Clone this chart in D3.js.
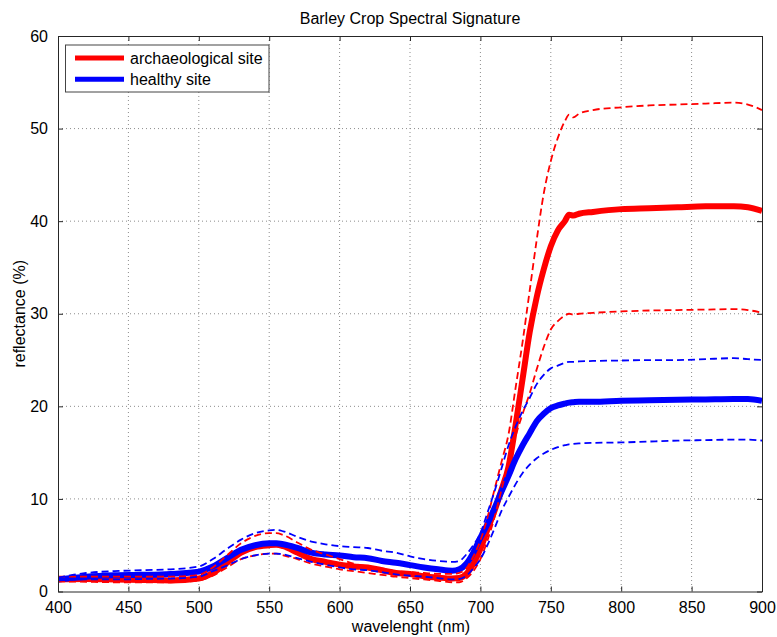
<!DOCTYPE html>
<html><head><meta charset="utf-8">
<script src="https://cdn.jsdelivr.net/npm/d3@7"></script>
<style>body{margin:0;background:#fff;} svg{display:block;font-family:"Liberation Sans",Arial,Helvetica,sans-serif;}</style>
</head><body>
<script>
const wavelength = [400,420,440,460,480,500,510,520,530,540,550,555,560,570,580,590,600,610,620,630,640,650,660,670,680,685,690,695,700,705,710,715,720,725,730,735,740,745,750,755,760,763,766,770,780,800,820,840,860,880,890,900];
const archMean = [1.3,1.35,1.3,1.25,1.2,1.4,2.0,3.1,4.2,4.8,5.0,5.05,4.9,4.2,3.5,3.2,2.9,2.7,2.6,2.3,2.0,1.9,1.65,1.5,1.4,1.45,1.9,3.0,4.6,6.7,8.7,11,13.5,18,23,28,31.8,34.8,37.3,39.0,40.0,40.7,40.6,40.8,41.0,41.3,41.4,41.5,41.6,41.6,41.5,41.1];
const archHigh = [1.6,1.6,1.6,1.6,1.6,1.8,2.6,3.9,5.2,6.0,6.3,6.3,6.1,5.3,4.5,4.0,3.5,3.0,2.7,2.5,2.2,2.1,2.0,1.9,1.9,2.0,2.5,3.8,5.5,8,11,14,17,22,27,32.5,38,43,46.5,49,50.8,51.5,51.2,51.6,52.0,52.3,52.5,52.6,52.7,52.8,52.6,52.0];
const archLow = [1.1,1.05,1.0,1.0,1.0,1.2,1.7,2.6,3.5,3.9,4.1,4.1,3.9,3.5,3.0,2.7,2.4,2.2,2.0,1.8,1.6,1.45,1.3,1.15,1.0,1.0,1.4,2.2,3.5,5.5,8,11,14,16.8,19.2,21.4,24,26.4,28.3,29.2,29.8,30.0,29.9,30.0,30.1,30.25,30.35,30.4,30.45,30.5,30.4,30.1];
const healthyMean = [1.3,1.6,1.75,1.8,1.9,2.15,2.7,3.6,4.5,5.0,5.2,5.2,5.1,4.7,4.2,4.0,3.9,3.7,3.6,3.3,3.1,2.85,2.6,2.4,2.25,2.4,3.0,4.2,5.8,7.3,9.0,10.8,12.5,14.3,15.8,17.1,18.4,19.2,19.8,20.1,20.3,20.4,20.45,20.5,20.5,20.6,20.65,20.7,20.75,20.8,20.8,20.6];
const healthyHigh = [1.5,2.0,2.2,2.3,2.4,2.7,3.5,4.6,5.6,6.3,6.6,6.65,6.5,5.9,5.4,5.1,4.9,4.8,4.7,4.4,4.2,3.8,3.5,3.3,3.2,3.3,4.0,5.0,6.3,8.5,10.8,13.3,15.8,17.8,19.5,20.9,22.4,23.4,24.1,24.4,24.7,24.8,24.8,24.85,24.9,24.95,25.0,25.0,25.1,25.2,25.1,25.0];
const healthyLow = [1.2,1.3,1.3,1.35,1.4,1.6,2.2,2.8,3.5,3.9,4.1,4.1,4.0,3.6,3.2,2.9,2.6,2.4,2.3,2.1,1.85,1.7,1.6,1.45,1.3,1.35,1.7,2.5,3.5,5.0,6.8,8.7,10.2,11.6,12.8,13.7,14.4,14.9,15.3,15.6,15.8,15.9,15.95,16.0,16.05,16.1,16.2,16.3,16.35,16.4,16.4,16.3];
const xTicks = [400,450,500,550,600,650,700,750,800,850,900];
const yTicks = [0,10,20,30,40,50,60];
const legendLabels = ["archaeological site","healthy site"];
const titleText = "Barley Crop Spectral Signature";
const xLabel = "wavelenght (nm)";
const yLabel = "reflectance (%)";

const W = 777, H = 637;
const m = {left:58, right:762, top:36, bottom:591.5};
const svg = d3.select("body").append("svg").attr("width",W).attr("height",H);
const x = d3.scaleLinear().domain([400,900]).range([m.left,m.right]);
const y = d3.scaleLinear().domain([0,60]).range([m.bottom,m.top]);
const axisColor = "#262626";

// grid
const grid = svg.append("g");
xTicks.slice(1,-1).forEach(t=>{
  grid.append("line").attr("x1",x(t)).attr("x2",x(t)).attr("y1",m.top).attr("y2",m.bottom)
    .attr("stroke","#8c8c8c").attr("stroke-width",1).attr("stroke-dasharray","1,3");
});
yTicks.slice(1,-1).forEach(t=>{
  grid.append("line").attr("x1",m.left).attr("x2",m.right).attr("y1",y(t)).attr("y2",y(t))
    .attr("stroke","#8c8c8c").attr("stroke-width",1).attr("stroke-dasharray","1,3");
});

// lines
svg.append("clipPath").attr("id","c").append("rect")
  .attr("x",m.left).attr("y",m.top).attr("width",m.right-m.left).attr("height",m.bottom-m.top);
const line = vals => d3.line().x((d,i)=>x(wavelength[i])).y(d=>y(d)).curve(d3.curveMonotoneX)(vals);
const lg = svg.append("g").attr("clip-path","url(#c)");
const series = [
  {v:archMean, c:"#ff0000", w:6, dash:null},
  {v:healthyMean, c:"#0000ff", w:6, dash:null},
  {v:archHigh, c:"#ff0000", w:1.8, dash:"7,4"},
  {v:archLow, c:"#ff0000", w:1.8, dash:"7,4"},
  {v:healthyHigh, c:"#0000ff", w:1.8, dash:"7,4"},
  {v:healthyLow, c:"#0000ff", w:1.8, dash:"7,4"}
];
series.forEach(s=>{
  lg.append("path").attr("d",line(s.v)).attr("fill","none").attr("stroke",s.c)
    .attr("stroke-width",s.w).attr("stroke-dasharray",s.dash).attr("stroke-linejoin","round");
});

// axes (MATLAB box style, inward ticks)
const xb = svg.append("g").attr("transform",`translate(0,${m.bottom})`)
  .call(d3.axisBottom(x).tickValues(xTicks).tickSizeInner(-5).tickSizeOuter(0).tickPadding(10));
const xt = svg.append("g").attr("transform",`translate(0,${m.top})`)
  .call(d3.axisTop(x).tickValues(xTicks).tickSizeInner(-5).tickSizeOuter(0).tickFormat(""));
const yl = svg.append("g").attr("transform",`translate(${m.left},0)`)
  .call(d3.axisLeft(y).tickValues(yTicks).tickSizeInner(-5).tickSizeOuter(0).tickPadding(10));
const yr = svg.append("g").attr("transform",`translate(${m.right},0)`)
  .call(d3.axisRight(y).tickValues(yTicks).tickSizeInner(-5).tickSizeOuter(0).tickFormat(""));
[xb,xt,yl,yr].forEach(g=>{
  g.selectAll(".domain").attr("stroke",axisColor).attr("stroke-width",1);
  g.selectAll(".tick line").attr("stroke",axisColor);
  g.selectAll("text").attr("fill","#000").style("font-size","16px").style("font-family","'Liberation Sans',Arial,sans-serif");
});
xb.selectAll("text").attr("dy","0.71em");

// title & labels
svg.append("text").attr("x",(m.left+m.right)/2).attr("y",24).attr("text-anchor","middle")
  .style("font-size","16px").attr("fill","#000").text(titleText);
svg.append("text").attr("x",(m.left+m.right)/2+1).attr("y",632).attr("text-anchor","middle")
  .style("font-size","16px").attr("fill","#000").text(xLabel);
svg.append("text").attr("transform",`translate(25,${(m.top+m.bottom)/2}) rotate(-90)`)
  .attr("text-anchor","middle").style("font-size","16px").attr("fill","#000").text(yLabel);

// legend
const leg = svg.append("g");
leg.append("rect").attr("x",65.5).attr("y",45).attr("width",203.5).attr("height",47)
  .attr("fill","#fff").attr("stroke","#444").attr("stroke-width",1);
const legColors = ["#ff0000","#0000ff"];
legendLabels.forEach((lab,i)=>{
  const yy = 58 + i*21.3;
  leg.append("line").attr("x1",75).attr("x2",124).attr("y1",yy).attr("y2",yy)
    .attr("stroke",legColors[i]).attr("stroke-width",5);
  leg.append("text").attr("x",130).attr("y",yy+5.5).style("font-size","16px").attr("fill","#000").text(lab);
});
</script>
</body></html>
